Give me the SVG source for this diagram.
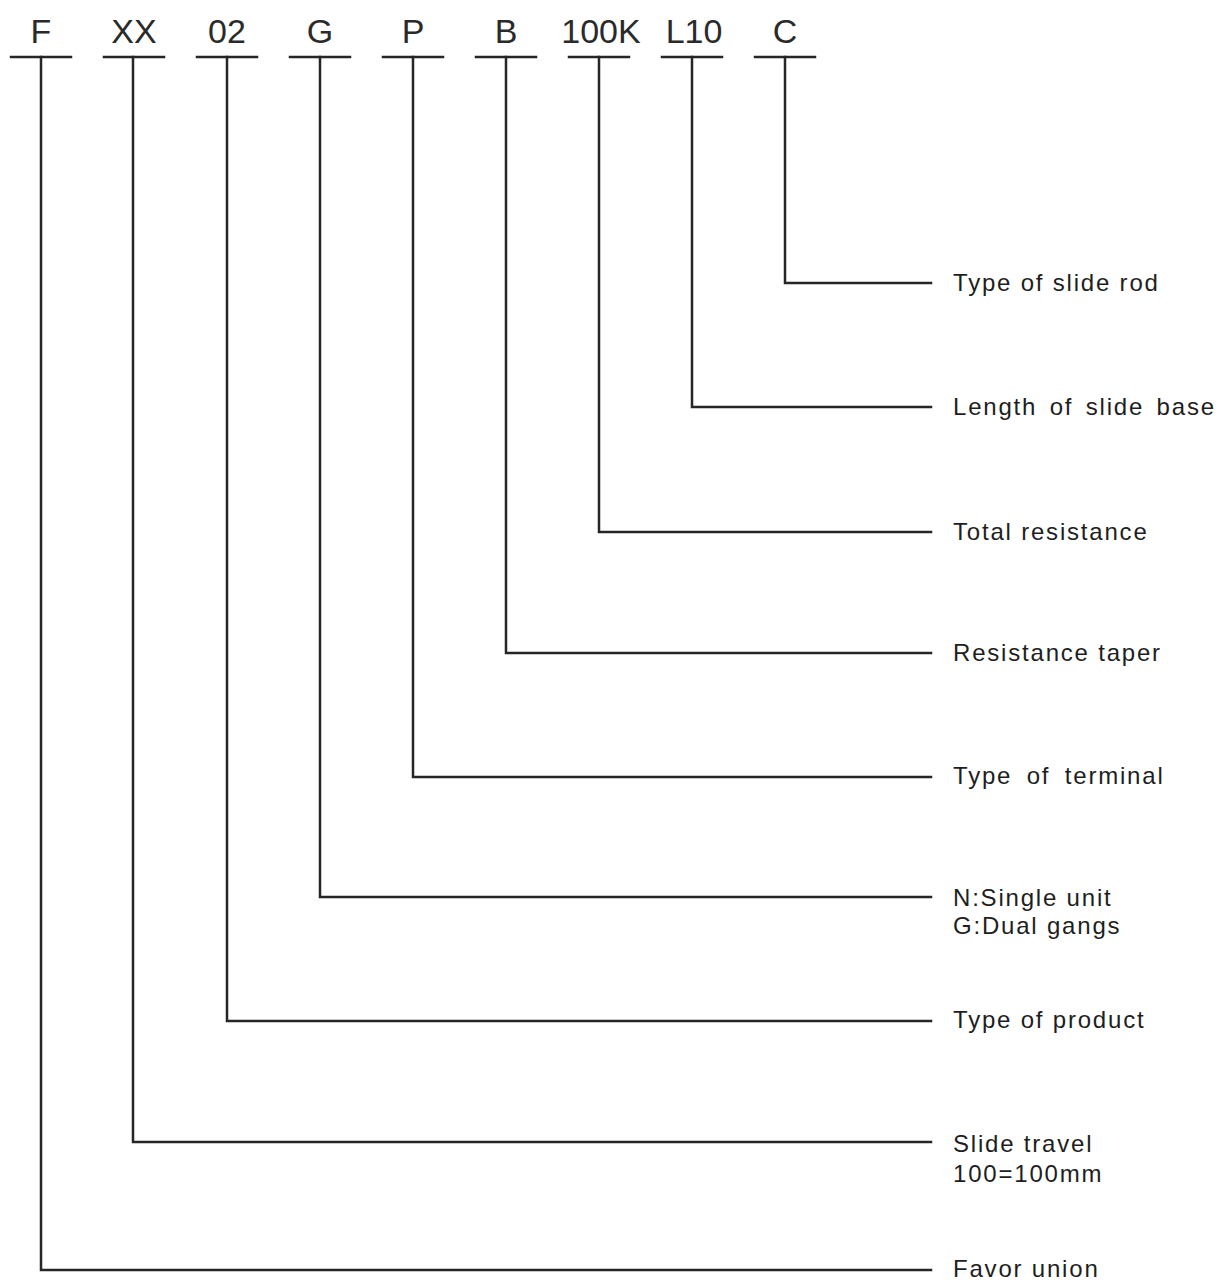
<svg xmlns="http://www.w3.org/2000/svg" width="1221" height="1280" viewBox="0 0 1221 1280">
<style>
.code{font-family:"Liberation Sans",Arial,sans-serif;font-size:34px;fill:#2a2a2a;text-anchor:middle}
.lbl{font-family:"Liberation Sans",Arial,sans-serif;font-size:24px;fill:#1e1e1e;letter-spacing:1.8px}
.ln{stroke:#262626;stroke-width:2.5;fill:none;stroke-linecap:square}
</style>
<rect width="1221" height="1280" fill="#fff"/>
<g id="codes">
<g id="code-F"><text class="code" x="41" y="43">F</text><line class="ln" x1="11" y1="57" x2="71" y2="57"/></g>
<g id="code-XX"><text class="code" x="134" y="43">XX</text><line class="ln" x1="104" y1="57" x2="164" y2="57"/></g>
<g id="code-02"><text class="code" x="227" y="43">02</text><line class="ln" x1="197" y1="57" x2="257" y2="57"/></g>
<g id="code-G"><text class="code" x="320" y="43">G</text><line class="ln" x1="290" y1="57" x2="350" y2="57"/></g>
<g id="code-P"><text class="code" x="413" y="43">P</text><line class="ln" x1="383" y1="57" x2="443" y2="57"/></g>
<g id="code-B"><text class="code" x="506" y="43">B</text><line class="ln" x1="476" y1="57" x2="536" y2="57"/></g>
<g id="code-100K"><text class="code" x="601" y="43">100K</text><line class="ln" x1="569" y1="57" x2="629" y2="57"/></g>
<g id="code-L10"><text class="code" x="694" y="43">L10</text><line class="ln" x1="662" y1="57" x2="722" y2="57"/></g>
<g id="code-C"><text class="code" x="785" y="43">C</text><line class="ln" x1="755" y1="57" x2="815" y2="57"/></g>
</g>
<g id="connectors">
<polyline class="ln" points="785,57 785,283 931,283"/>
<polyline class="ln" points="692,57 692,407 931,407"/>
<polyline class="ln" points="599,57 599,532 931,532"/>
<polyline class="ln" points="506,57 506,653 931,653"/>
<polyline class="ln" points="413,57 413,777 931,777"/>
<polyline class="ln" points="320,57 320,897 931,897"/>
<polyline class="ln" points="227,57 227,1021 931,1021"/>
<polyline class="ln" points="133,57 133,1142 931,1142"/>
<polyline class="ln" points="41,57 41,1270 931,1270"/>
</g>
<g id="labels">
<g id="label-C"><text class="lbl" x="953" y="291">Type of slide rod</text></g>
<g id="label-L10"><text class="lbl" x="953" y="415" word-spacing="4">Length of slide base</text></g>
<g id="label-100K"><text class="lbl" x="953" y="540">Total resistance</text></g>
<g id="label-B"><text class="lbl" x="953" y="661">Resistance taper</text></g>
<g id="label-P"><text class="lbl" x="953" y="784" word-spacing="6">Type of terminal</text></g>
<g id="label-G"><text class="lbl" x="953" y="906">N:Single unit</text><text class="lbl" x="953" y="934">G:Dual gangs</text></g>
<g id="label-02"><text class="lbl" x="953" y="1028">Type of product</text></g>
<g id="label-XX"><text class="lbl" x="953" y="1152">Slide travel</text><text class="lbl" x="953" y="1182">100=100mm</text></g>
<g id="label-F"><text class="lbl" x="953" y="1277">Favor union</text></g>
</g>
</svg>
